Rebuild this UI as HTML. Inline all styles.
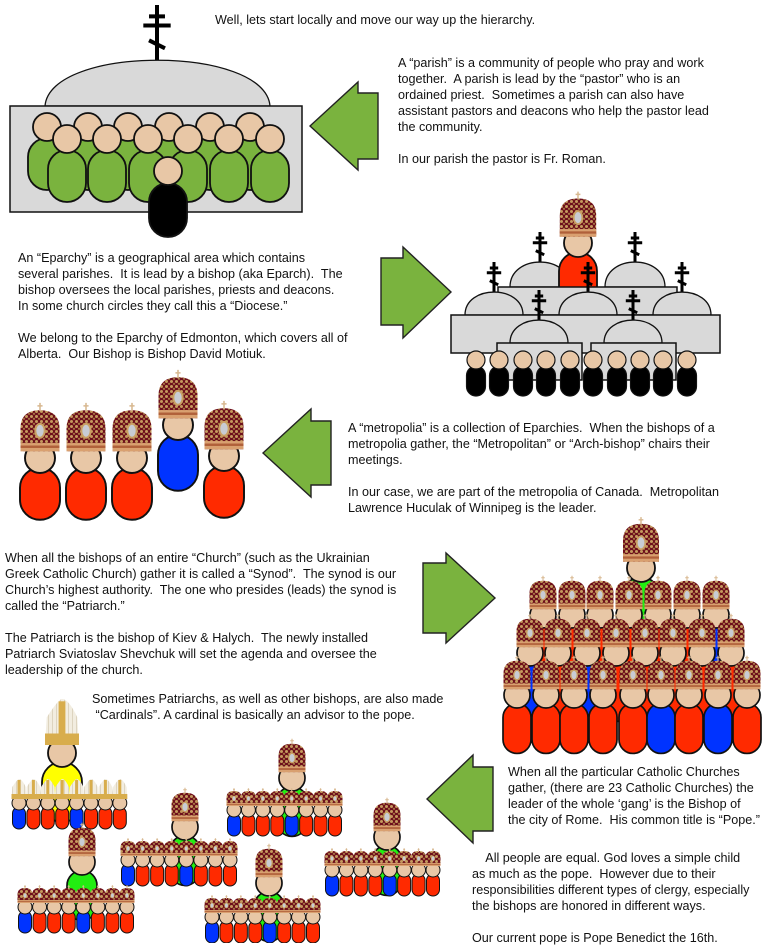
<!DOCTYPE html>
<html><head><meta charset="utf-8">
<style>
html,body{margin:0;padding:0;background:#fff;}
body{width:771px;height:943px;position:relative;overflow:hidden;font-family:"Liberation Sans",Arial,sans-serif;}
.t{position:absolute;font-size:12.6px;line-height:16px;color:#111;white-space:pre;}
svg{position:absolute;left:0;top:0;}
</style></head><body>
<svg id="s" width="771" height="943" viewBox="0 0 771 943" xmlns="http://www.w3.org/2000/svg">
<defs>
<pattern id="gold" width="5" height="5" patternUnits="userSpaceOnUse">
<rect width="5" height="5" fill="#6e0f1c"/>
<circle cx="1.5" cy="1.5" r="1.5" fill="#c49a5e"/>
<circle cx="4" cy="3.8" r="1.1" fill="#a87a44"/>
</pattern>
<pattern id="wg" width="4" height="4" patternUnits="userSpaceOnUse">
<rect width="4" height="4" fill="#f2ede0"/>
<rect x="0" y="0" width="1" height="4" fill="#ddd4bf"/>
</pattern>
</defs>
<g id="g"></g>
</svg>

<div class="t" style="left:215px;top:12px;">Well, lets start locally and move our way up the hierarchy.</div>
<div class="t" style="left:398px;top:55px;">A “parish” is a community of people who pray and work
together.  A parish is lead by the “pastor” who is an
ordained priest.  Sometimes a parish can also have
assistant pastors and deacons who help the pastor lead
the community.

In our parish the pastor is Fr. Roman.</div>
<div class="t" style="left:18px;top:250px;">An “Eparchy” is a geographical area which contains
several parishes.  It is lead by a bishop (aka Eparch).  The
bishop oversees the local parishes, priests and deacons.
In some church circles they call this a “Diocese.”

We belong to the Eparchy of Edmonton, which covers all of
Alberta.  Our Bishop is Bishop David Motiuk.</div>
<div class="t" style="left:348px;top:420px;">A “metropolia” is a collection of Eparchies.  When the bishops of a
metropolia gather, the “Metropolitan” or “Arch-bishop” chairs their
meetings.

In our case, we are part of the metropolia of Canada.  Metropolitan
Lawrence Huculak of Winnipeg is the leader.</div>
<div class="t" style="left:5px;top:550px;">When all the bishops of an entire “Church” (such as the Ukrainian
Greek Catholic Church) gather it is called a “Synod”.  The synod is our
Church’s highest authority.  The one who presides (leads) the synod is
called the “Patriarch.”

The Patriarch is the bishop of Kiev &amp; Halych.  The newly installed
Patriarch Sviatoslav Shevchuk will set the agenda and oversee the
leadership of the church.</div>
<div class="t" style="left:92px;top:691px;">Sometimes Patriarchs, as well as other bishops, are also made
 “Cardinals”. A cardinal is basically an advisor to the pope.</div>
<div class="t" style="left:508px;top:764px;">When all the particular Catholic Churches
gather, (there are 23 Catholic Churches) the
leader of the whole ‘gang’ is the Bishop of
the city of Rome.  His common title is “Pope.”</div>
<div class="t" style="left:472px;top:850px;">    All people are equal. God loves a simple child
as much as the pope.  However due to their
responsibilities different types of clergy, especially
the bishops are honored in different ways.

Our current pope is Pope Benedict the 16th.</div>

<script>
var G=document.getElementById('g'),h='';
var SK='#111',SKIN='#e8c7a6';
var RED='#ff2a00',BLUE='#0033ff',GREEN='#22ee11',YEL='#ffff00',LG='#7ab33e',GRY='#d9d9d9';
function add(s){h+=s;}
function mitre(cx,bot,w,ht){
 var l=cx-w/2,r=cx+w/2,top=bot-ht;
 add('<path d="M'+l+' '+bot+' L'+l+' '+(bot-ht*0.55)+' C'+l+' '+(top+ht*0.05)+' '+(cx-w*0.2)+' '+top+' '+cx+' '+top+' C'+(cx+w*0.2)+' '+top+' '+r+' '+(top+ht*0.05)+' '+r+' '+(bot-ht*0.55)+' L'+r+' '+bot+' Z" fill="url(#gold)"/>');
 add('<rect x="'+l+'" y="'+(bot-ht*0.2)+'" width="'+w+'" height="'+(ht*0.2)+'" fill="#d9a070"/>');
 add('<rect x="'+l+'" y="'+(bot-ht*0.14)+'" width="'+w+'" height="'+(ht*0.06)+'" fill="#b0603a"/>');
 add('<ellipse cx="'+cx+'" cy="'+(bot-ht*0.5)+'" rx="'+(w*0.12)+'" ry="'+(ht*0.17)+'" fill="#c8ccd4" stroke="#c9a064" stroke-width="'+(w*0.05)+'"/>');
 var cs=ht*0.18;
 add('<path d="M'+cx+' '+(top+1)+' V'+(top-cs)+' M'+(cx-cs*0.35)+' '+(top-cs*0.6)+' H'+(cx+cs*0.35)+'" stroke="#d8b890" stroke-width="'+Math.max(1,w*0.04)+'"/>');
}
function pmitre(cx,bot,w,ht){
 var l=cx-w/2,r=cx+w/2,top=bot-ht;
 add('<path d="M'+l+' '+bot+' L'+(l+w*0.05)+' '+(bot-ht*0.6)+' Q'+(cx-w*0.1)+' '+top+' '+cx+' '+top+' Q'+(cx+w*0.2)+' '+top+' '+(r-w*0.05)+' '+(bot-ht*0.6)+' L'+r+' '+bot+' Z" fill="url(#wg)"/>');
 add('<rect x="'+(cx-w*0.1)+'" y="'+(top+ht*0.05)+'" width="'+(w*0.2)+'" height="'+(ht*0.8)+'" fill="#d8ad4c"/>');
 add('<rect x="'+l+'" y="'+(bot-ht*0.25)+'" width="'+w+'" height="'+(ht*0.25)+'" fill="#d8ad4c"/>');
}
function person(cx,hy,r,col,bw,bh,btop){
 bw=bw||2.7*r;bh=bh||3.9*r;btop=(btop===undefined)?0.65*r:btop;
 var sw=Math.max(1,r*0.13);
 add('<rect x="'+(cx-bw/2)+'" y="'+(hy+btop)+'" width="'+bw+'" height="'+bh+'" rx="'+(bw/2)+'" fill="'+col+'" stroke="'+SK+'" stroke-width="'+sw+'"/>');
 add('<circle cx="'+cx+'" cy="'+hy+'" r="'+r+'" fill="'+SKIN+'" stroke="'+SK+'" stroke-width="'+sw+'"/>');
}
function bishop(cx,hy,r,col,bw,bh,hw){
 person(cx,hy,r,col,bw,bh);
 hw=hw||2.6*r;
 mitre(cx,hy-0.45*r,hw,hw*1.05);
}
function cross(cx,bot,len,sw){
 var t=bot-len;
 add('<path d="M'+cx+' '+bot+' V'+t+' M'+(cx-len*0.14)+' '+(t+len*0.2)+' H'+(cx+len*0.14)+' M'+(cx-len*0.24)+' '+(t+len*0.36)+' H'+(cx+len*0.24)+' M'+(cx-len*0.14)+' '+(t+len*0.62)+' L'+(cx+len*0.14)+' '+(t+len*0.76)+'" stroke="#000" stroke-width="'+sw+'" fill="none"/>');
}
function dome(cx,base,rx,ry){
 add('<path d="M'+(cx-rx)+' '+base+' C'+(cx-rx)+' '+(base-ry*1.33)+' '+(cx+rx)+' '+(base-ry*1.33)+' '+(cx+rx)+' '+base+' Z" fill="'+GRY+'" stroke="'+SK+'" stroke-width="1.3"/>');
}
function rect(x,y,w,hh){add('<rect x="'+x+'" y="'+y+'" width="'+w+'" height="'+hh+'" fill="'+GRY+'" stroke="'+SK+'" stroke-width="1.5"/>');}
function arrowL(tipx,tipy,hb,hh,sr,sh){
 add('<path d="M'+tipx+' '+tipy+' L'+hb+' '+(tipy-hh/2)+' V'+(tipy-sh/2)+' H'+sr+' V'+(tipy+sh/2)+' H'+hb+' V'+(tipy+hh/2)+' Z" fill="'+LG+'" stroke="#222" stroke-width="1.4"/>');
}

/* ---- Parish ---- */
cross(157,62,57,4);
add('<path d="M45 106 C50 45 265 45 270 106 Z" fill="'+GRY+'" stroke="'+SK+'" stroke-width="1.3"/>');
rect(10,106,292,106);
[47,88,128,169,210,250].forEach(function(x){person(x,127,14,LG,38,52,11);});
[67,107,148,188,229,270].forEach(function(x){person(x,139,14,LG,38,52,11);});
person(168,171,14,'#000',38,54,12);
arrowL(310,126,358,88,378,66);

/* ---- Eparchy ---- */
add('<path d="M381 258 H403 V247 L451 292 L403 338 V325 H381 Z" fill="'+LG+'" stroke="#222" stroke-width="1.4"/>');
cross(540,262,30,3);cross(635,262,30,3);
dome(540,287,30,25);dome(635,287,30,25);
bishop(578,243,14,RED,38,60);
rect(498,287,179,28);
[494,588,682].forEach(function(x){cross(x,292,30,3);});
[494,588,682].forEach(function(x){dome(x,315,29,23);});
rect(451,315,269,38);
[539,633].forEach(function(x){cross(x,320,30,3);});
[539,633].forEach(function(x){dome(x,343,29,23);});
rect(497,343,85,37);rect(591,343,85,37);
[476,499,523,546,570,593,617,640,663,687].forEach(function(x){person(x,360,9,'#000',19,30,6);});

/* ---- Metropolia ---- */
[40,86,132].forEach(function(x){bishop(x,458,15,RED,40,52);});
bishop(178,425,15,BLUE,40,56);
bishop(224,456,15,RED,40,52);
arrowL(263,453,311,88,331,64);

/* ---- Synod ---- */
add('<path d="M423 563 H446 V553 L495 598 L446 643 V633 H423 Z" fill="'+LG+'" stroke="#222" stroke-width="1.4"/>');
bishop(641,568,14,GREEN,36,70,36);
var r1=[543,572,600,629,658,687,716],c1=[RED,RED,RED,RED,RED,RED,BLUE];
r1.forEach(function(x,i){bishop(x,615,13,c1[i],28,60,27);});
var r2=[530,558,587,616,645,673,702,731],c2=[BLUE,RED,BLUE,RED,RED,RED,RED,RED];
r2.forEach(function(x,i){bishop(x,653,13,c2[i],28,60,27);});
var r3=[517,546,574,603,633,661,689,718,747],c3=[RED,RED,RED,RED,RED,BLUE,RED,BLUE,RED];
r3.forEach(function(x,i){bishop(x,695,13,c3[i],28,50,27);});

/* ---- Pope & cardinals ---- */
person(62,753,14,YEL,40,60,9);
pmitre(62,745,34,46);
var pc=[BLUE,RED,RED,RED,BLUE,RED,RED,RED];
for(var i=0;i<8;i++){var x=19+i*14.4;person(x,803,7,pc[i],13,22,4);pmitre(x,799,15,20);}
function group(bx,by,rx0,rx1,ry){
 bishop(bx,by,13,GREEN,30,50,27);
 var step=(rx1-rx0)/7;
 for(var i=0;i<8;i++){var x=rx0+i*step;person(x,ry,7,pc[i],13,22,4);mitre(x,ry-4,15,15);}
}
group(292,778,234,335,810);
group(185,827,128,230,860);
group(82,862,25,127,907);
group(269,883,212,313,917);
group(387,837,332,433,870);
arrowL(427,799,473,88,493,64);

G.innerHTML=h;
</script>
</body></html>
